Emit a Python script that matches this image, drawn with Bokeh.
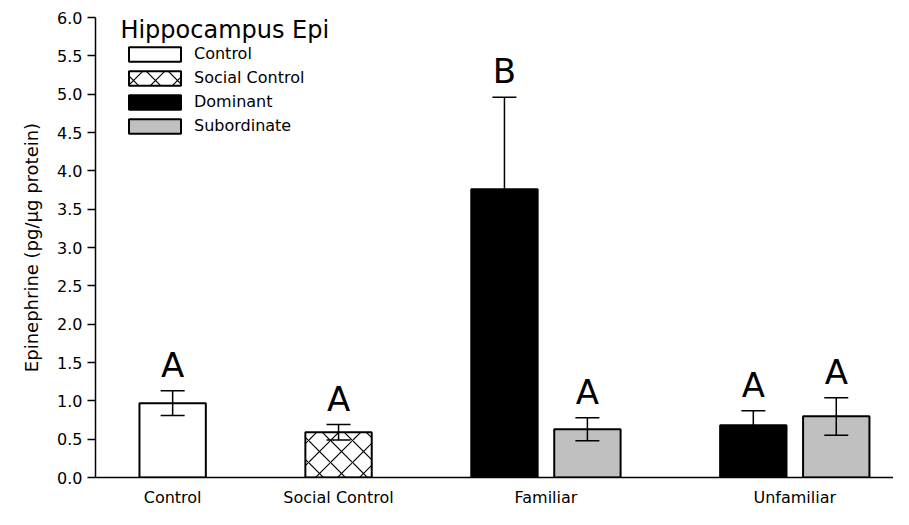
from bokeh.plotting import figure
from bokeh.models import (ColumnDataSource, Legend, LegendItem, Label, FixedTicker,
                          Whisker, TeeHead, NumeralTickFormatter)
from bokeh.embed import file_html
from bokeh.resources import INLINE
from bokeh.core.properties import value

# ---- data ----
groups = ["Control", "Social Control", "Familiar", "Unfamiliar"]
conditions = ["Control", "Social Control", "Dominant", "Subordinate"]
bar_group = ["Control", "Social Control", "Familiar", "Familiar", "Unfamiliar", "Unfamiliar"]
bar_cond = ["Control", "Social Control", "Dominant", "Subordinate", "Dominant", "Subordinate"]
means = [0.97, 0.59, 3.76, 0.63, 0.68, 0.80]
err_upper = [1.13, 0.69, 4.96, 0.78, 0.87, 1.04]
err_lower = [0.81, 0.49, 2.56, 0.48, 0.49, 0.55]
letters = ["A", "A", "B", "A", "A", "A"]
y_ticks = [0.0, 0.5, 1.0, 1.5, 2.0, 2.5, 3.0, 3.5, 4.0, 4.5, 5.0, 5.5, 6.0]
title_text = "Hippocampus Epi"
y_label = "Epinephrine (pg/\u03bcg protein)"

# ---- layout of groups on a numeric axis ----
group_center = {"Control": 0.0, "Social Control": 2.0, "Familiar": 4.5, "Unfamiliar": 7.5}
counts = {g: bar_group.count(g) for g in groups}
seen = {g: 0 for g in groups}
xs = []
for g in bar_group:
    n = counts[g]
    i = seen[g]
    seen[g] += 1
    xs.append(group_center[g] + (i - (n - 1) / 2.0))

FONT = "DejaVu Sans"
p = figure(width=893, height=509, output_backend="svg", toolbar_location=None,
           x_range=(-0.93, 8.69), y_range=(0, 6.0),
           min_border_left=95, min_border_right=0, min_border_top=17, min_border_bottom=10)
p.outline_line_color = None
p.xgrid.grid_line_color = None
p.ygrid.grid_line_color = None

fills = {"Control": "white", "Social Control": "white", "Dominant": "black", "Subordinate": "#c0c0c0"}
renderers = {}
for c in conditions:
    idx = [k for k, bc in enumerate(bar_cond) if bc == c]
    src = ColumnDataSource(dict(x=[xs[k] for k in idx], top=[means[k] for k in idx]))
    kw = {}
    if c == "Social Control":
        kw = dict(hatch_pattern="diagonal_cross", hatch_scale=22, hatch_weight=1.2, hatch_color="black")
    r = p.vbar(x="x", top="top", bottom=0, width=0.8, source=src,
               fill_color=fills[c], line_color="black", line_width=2, **kw)
    renderers[c] = r

err_src = ColumnDataSource(dict(x=xs, upper=err_upper, lower=err_lower, top=means, letter=letters))
w = Whisker(source=err_src, base="x", upper="upper", lower="lower", dimension="height",
            line_width=1.5, line_color="black", level="overlay",
            upper_head=TeeHead(size=24, line_width=1.5, line_color="black"),
            lower_head=TeeHead(size=24, line_width=1.5, line_color="black"))
p.add_layout(w)

p.text(x="x", y="upper", text="letter", source=err_src, text_align="center",
       text_baseline="bottom", y_offset=-6, text_font=value(FONT),
       text_font_size="34px", text_color="black")

# legend
items = [LegendItem(label=c, renderers=[renderers[c]]) for c in conditions]
legend = Legend(items=items, location="top_left", margin=27, padding=0,
                glyph_width=65, glyph_height=18, label_height=14, spacing=5,
                label_standoff=7, label_text_font=FONT, label_text_font_size="16px",
                label_text_color="black",
                background_fill_alpha=0, border_line_color=None)
p.add_layout(legend)

p.add_layout(Label(x=-0.63, y=5.84, text=title_text, text_font=FONT, text_font_size="24px",
                   text_baseline="middle", text_align="left", text_color="black"))

# axes
p.yaxis.ticker = FixedTicker(ticks=y_ticks)
p.yaxis.formatter = NumeralTickFormatter(format="0.0")
p.yaxis.minor_tick_line_color = None
p.yaxis.major_tick_out = 8
p.yaxis.major_tick_in = 0
p.yaxis.major_tick_line_width = 1.5
p.yaxis.axis_line_width = 1.5
p.yaxis.major_label_text_font = FONT
p.yaxis.major_label_text_font_size = "16px"
p.yaxis.major_label_text_color = "black"
p.yaxis.axis_label = y_label
p.yaxis.axis_label_text_font = FONT
p.yaxis.axis_label_text_font_size = "18px"
p.yaxis.axis_label_text_font_style = "normal"
p.yaxis.axis_label_text_color = "black"
p.yaxis.axis_label_standoff = 12

p.xaxis.ticker = FixedTicker(ticks=[group_center[g] for g in groups])
p.xaxis.major_label_overrides = {group_center[g]: g for g in groups}
p.xaxis.major_tick_line_color = None
p.xaxis.major_tick_out = 0
p.xaxis.major_tick_in = 0
p.xaxis.minor_tick_line_color = None
p.xaxis.minor_tick_out = 0
p.xaxis.minor_tick_in = 0
p.xaxis.axis_line_width = 1.5
p.xaxis.major_label_text_font = FONT
p.xaxis.major_label_text_font_size = "16px"
p.xaxis.major_label_text_color = "black"
p.xaxis.major_label_standoff = 10

open("out.html", "w").write(file_html(p, INLINE))
